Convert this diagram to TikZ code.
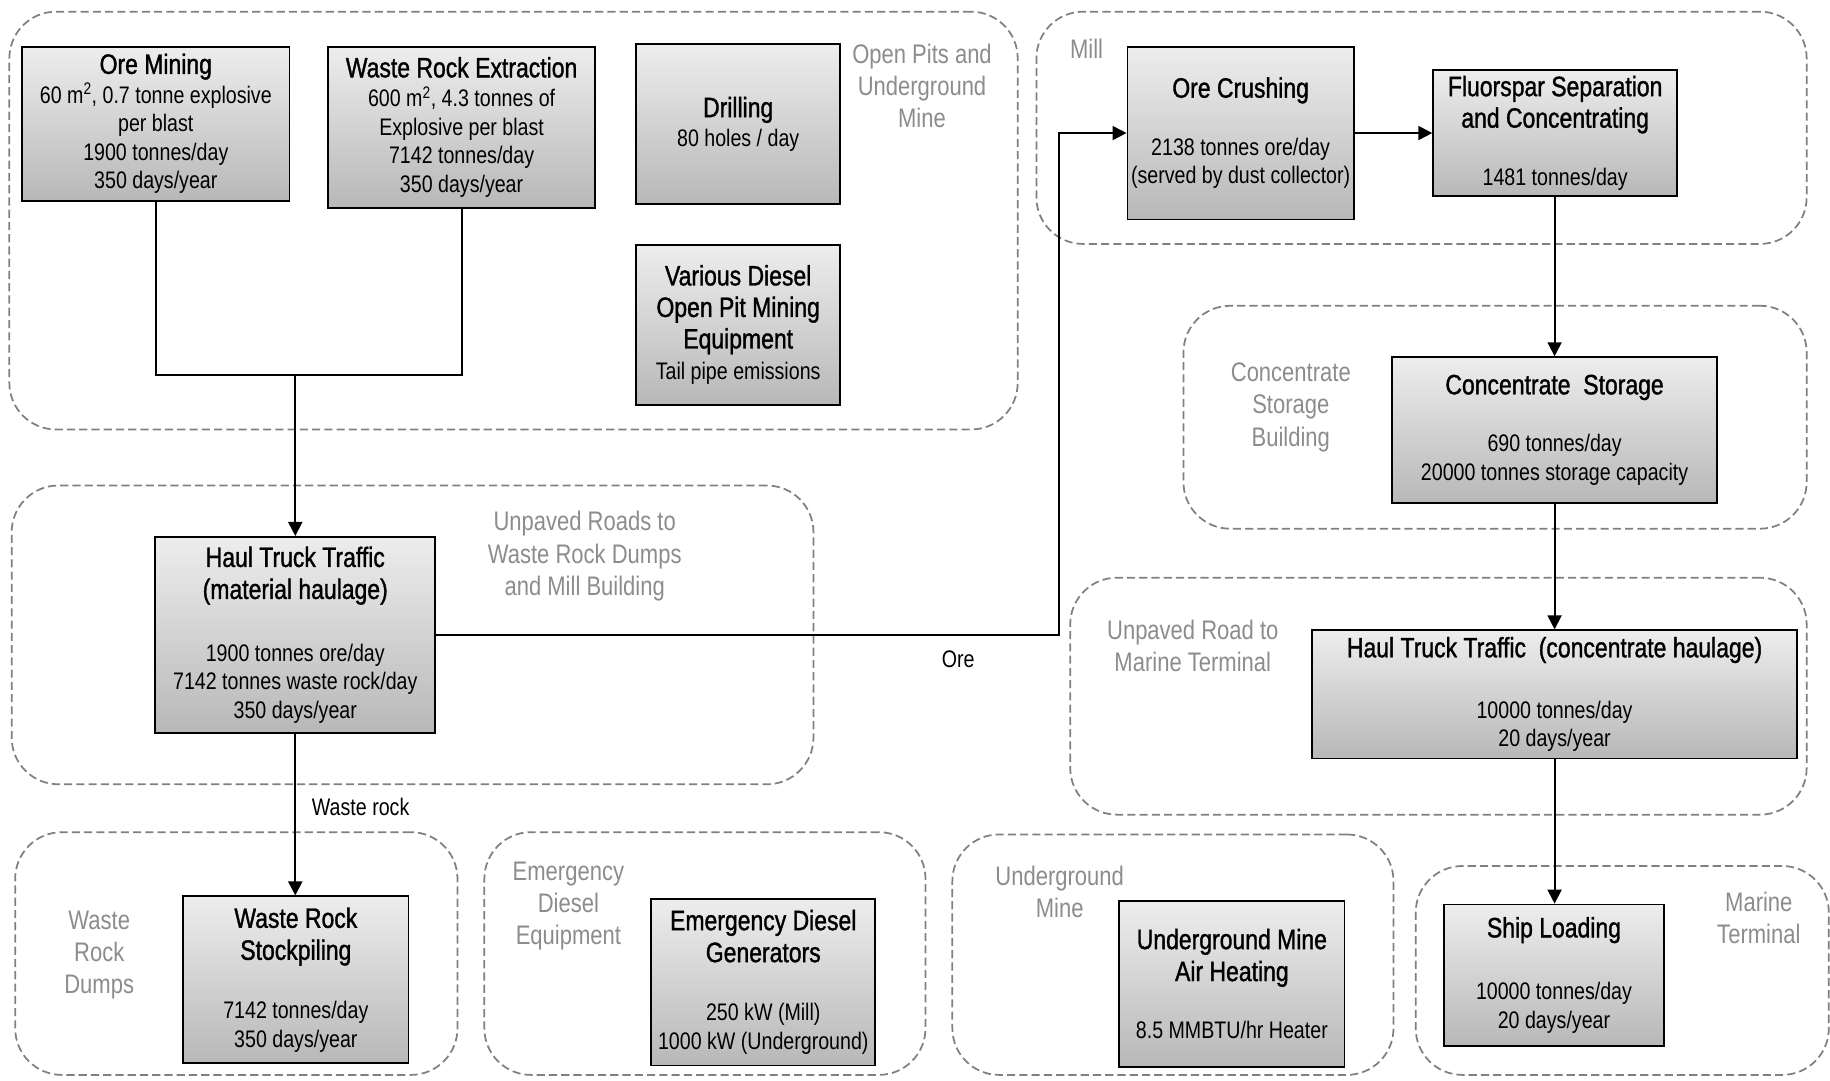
\documentclass[tikz,border=0pt]{standalone}
\usepackage{fontspec}
\setmainfont{Liberation Sans}[FakeStretch=0.82]
\newfontfamily\ttlfamily{Liberation Sans}[FakeStretch=0.82, FakeBold=1.2]
\usetikzlibrary{arrows.meta}

\definecolor{boxtop}{gray}{0.93}
\definecolor{boxbottom}{gray}{0.72}
\definecolor{zoneline}{gray}{0.5}
\definecolor{zonetext}{gray}{0.55}
\newcommand{\ttl}{\ttlfamily\fontsize{24}{27}\selectfont}
\newcommand{\txt}{\fontsize{20.5}{24.4}\selectfont}

\begin{document}
\begin{tikzpicture}[x=1pt,y=-1pt]
		\tikzstyle{block} = [rectangle, draw=black, line width=1.5pt, top color=boxtop, bottom color=boxbottom, align=center, inner sep=0pt, font=\txt]
		\tikzstyle{zone} = [rectangle, draw=zoneline, line width=1.5pt, dash pattern=on 7pt off 3.5pt, rounded corners=40pt, inner sep=0pt]
		\tikzstyle{zonelabel} = [text=zonetext, align=center, font=\fontsize{23}{27.5}\selectfont]
		\tikzstyle{flow} = [line width=1.6pt, -{Triangle[length=12pt,width=12pt]}]
		\useasboundingbox (0,0) rectangle (1568,926);
		% areas
		\node [zone, minimum width=864pt, minimum height=358pt] (pits) at (440,189) {};
		\node [zone, minimum width=660pt, minimum height=199pt] (mill) at (1218,109.5) {};
		\node [zone, minimum width=534pt, minimum height=191pt] (storage) at (1281,357.5) {};
		\node [zone, minimum width=687pt, minimum height=256pt] (roads) at (353.5,544) {};
		\node [zone, minimum width=631pt, minimum height=203pt] (marineroad) at (1232.5,596.5) {};
		\node [zone, minimum width=379pt, minimum height=208pt] (dumps) at (202.5,817) {};
		\node [zone, minimum width=378pt, minimum height=208pt] (emergency) at (604,817) {};
		\node [zone, minimum width=378pt, minimum height=206pt] (underground) at (1005,818) {};
		\node [zone, minimum width=354pt, minimum height=179pt] (terminal) at (1390,831.5) {};
		\node [zonelabel] (pitslbl) at (790,73.5) {Open Pits and\\Underground\\Mine};
		\node [zonelabel] (milllbl) at (931,42) {Mill};
		\node [zonelabel] (storagelbl) at (1106,349) {Concentrate\\Storage\\Building};
		\node [zonelabel] (roadslbl) at (501,476.5) {Unpaved Roads to\\Waste Rock Dumps\\and Mill Building};
		\node [zonelabel] (marineroadlbl) at (1022,553.5) {Unpaved Road to\\Marine Terminal};
		\node [zonelabel] (dumpslbl) at (85,818) {Waste\\Rock\\Dumps};
		\node [zonelabel] (emergencylbl) at (487,776.5) {Emergency\\Diesel\\Equipment};
		\node [zonelabel] (undergroundlbl) at (908,764.5) {Underground\\Mine};
		\node [zonelabel] (terminallbl) at (1507,786.5) {Marine\\Terminal};
		% sources
		\node [block, minimum width=229pt, minimum height=132pt] (ore) at (133.5,106) {\ttl Ore Mining\\[1pt]60 m\textsuperscript{2}, 0.7 tonne explosive\\per blast\\1900 tonnes/day\\350 days/year};
		\node [block, minimum width=229pt, minimum height=138pt] (waste) at (395.5,109) {\ttl Waste Rock Extraction\\[1pt]600 m\textsuperscript{2}, 4.3 tonnes of\\Explosive per blast\\7142 tonnes/day\\350 days/year};
		\node [block, minimum width=175pt, minimum height=137pt] (drill) at (632.5,106.5) {\ttl Drilling\\[1pt]80 holes / day};
		\node [block, minimum width=175pt, minimum height=137pt] (diesel) at (632.5,278.5) {\ttl Various Diesel\\[2.6pt]\ttl Open Pit Mining\\[2.6pt]\ttl Equipment\\[2.6pt]Tail pipe emissions};
		\node [block, minimum width=194pt, minimum height=148pt] (crush) at (1063,114) {\ttl Ore Crushing\\[25pt]2138 tonnes ore/day\\(served by dust collector)};
		\node [block, minimum width=209pt, minimum height=108pt] (fluor) at (1332.5,114) {\ttl Fluorspar Separation\\[2.6pt]\ttl and Concentrating\\[25pt]1481 tonnes/day};
		\node [block, minimum width=278pt, minimum height=125pt] (store) at (1332,368.5) {\ttl Concentrate\ \ Storage\\[25pt]690 tonnes/day\\20000 tonnes storage capacity};
		\node [block, minimum width=240pt, minimum height=168pt] (haul) at (253,544) {\ttl Haul Truck Traffic\\[3pt]\ttl (material haulage)\\[29pt]1900 tonnes ore/day\\7142 tonnes waste rock/day\\350 days/year};
		\node [block, minimum width=416pt, minimum height=110pt] (haulconc) at (1332,595) {\ttl Haul Truck Traffic\ \ (concentrate haulage)\\[28pt]10000 tonnes/day\\20 days/year};
		\node [block, minimum width=193pt, minimum height=143pt] (stock) at (253.5,839.5) {\ttl Waste Rock\\[3pt]\ttl Stockpiling\\[26pt]7142 tonnes/day\\350 days/year};
		\node [block, minimum width=192pt, minimum height=143pt] (gen) at (654,841.5) {\ttl Emergency Diesel\\[3pt]\ttl Generators\\[26pt]250 kW (Mill)\\1000 kW (Underground)};
		\node [block, minimum width=193pt, minimum height=142pt] (heat) at (1055.5,843) {\ttl Underground Mine\\[3pt]\ttl Air Heating\\[25pt]8.5 MMBTU/hr Heater};
		\node [block, minimum width=189pt, minimum height=121pt] (ship) at (1331.5,835.5) {\ttl Ship Loading\\[29pt]10000 tonnes/day\\20 days/year};
		% flows
		\coordinate (join) at (253,321);
		\coordinate (oreturn) at (907,544);
		\draw [line width=1.6pt] (ore.south) |- (join);
		\draw [line width=1.6pt] (waste.south) |- (join);
		\draw [flow] (join) -- (haul.north);
		\draw [flow] (haul.east) -- (oreturn) |- (crush.west);
		\draw [flow] (haul.south) -- (stock.north -| haul.south);
		\draw [flow] (crush.east) -- (fluor.west);
		\draw [flow] (fluor.south -| store.north) -- (store.north);
		\draw [flow] (store.south) -- (haulconc.north);
		\draw [flow] (haulconc.south) -- (ship.north -| haulconc.south);
		\node [font=\txt] (orelbl) at (821,565) {Ore};
		\node [font=\txt] (wastelbl) at (309,691) {Waste rock};
	\end{tikzpicture}
\end{document}
